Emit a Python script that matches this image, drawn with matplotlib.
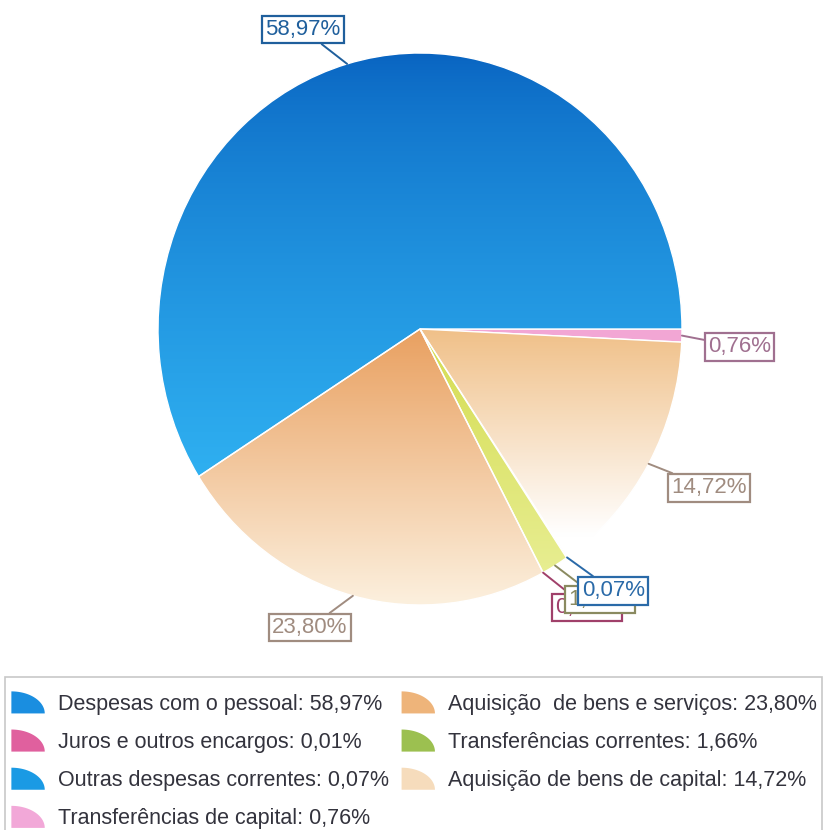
import numpy as np
import matplotlib
matplotlib.use("Agg")
import matplotlib.pyplot as plt
from matplotlib.patches import Patch, Polygon, Rectangle
from matplotlib.legend_handler import HandlerPatch
from matplotlib.colors import to_rgb

plt.rcParams['font.family'] = ['Liberation Sans', 'DejaVu Sans']

# --- dados ---
categorias = ["Despesas com o pessoal", "Aquisição  de bens e serviços",
              "Juros e outros encargos", "Transferências correntes",
              "Outras despesas correntes", "Aquisição de bens de capital",
              "Transferências de capital"]
percentagens = [58.97, 23.80, 0.01, 1.66, 0.07, 14.72, 0.76]
rotulos = ["58,97%", "23,80%", "0,01%", "1,66%", "0,07%", "14,72%", "0,76%"]

# cores (base, topo/fundo do degradê)
cor_base = ["#1590e0", "#f0b87c", "#b03070", "#d8e060", "#1a90e0", "#f6d8b0", "#f2a6d4"]
degrade = {0: ("#0862c0", "#30b2f2"),   # azul
           1: ("#e9a060", "#fcf0de"),   # laranja
           3: ("#d4dc50", "#eaf09a"),   # verde
           5: ("#f0c088", "#ffffff")}   # pêssego
cor_legenda = ["#1a8ee0", "#eeb47a", "#e0609e", "#9cc050", "#1a9ae4", "#f6dcbc", "#f2a8d8"]
cor_rotulo = ["#1f5f9c", "#a08c80", "#a0406a", "#8a8a60", "#2a6aa8", "#a08c80", "#a07090"]

fig = plt.figure(figsize=(8.27, 8.30), dpi=100)
ax = fig.add_axes([0, 0, 1, 1])

wedges, _ = ax.pie(percentagens, startangle=0, counterclock=True, radius=1,
                   colors=cor_base,
                   wedgeprops=dict(edgecolor="white", linewidth=1.0))

# degradê vertical dentro das fatias
for i, (c_top, c_bot) in degrade.items():
    w = wedges[i]
    a, b = np.array(to_rgb(c_top)), np.array(to_rgb(c_bot))
    y = np.linspace(1, -1, 256)[:, None]
    if i == 0:
        f = np.clip((1 - y) / 1.6, 0, 1) ** 0.7
    elif i == 5:
        f = np.clip((0 - y) / 0.75, 0, 1)
    else:
        f = np.clip((0 - y) / 1.0, 0, 1)
    img = a[None, None, :] * (1 - f[:, :, None]) + b[None, None, :] * f[:, :, None]
    img = np.repeat(img, 2, axis=1)
    im = ax.imshow(img, extent=(-1, 1, -1, 1), origin="upper",
                   interpolation="bilinear", zorder=1, aspect="auto")
    im.set_clip_path(w)
    w.set_facecolor("none")
    w.set_zorder(2)

# rótulos com caixas
cfg = {0: (1.09, "right", "bottom"), 1: (1.08, "right", "top"),
       2: (1.10, "left", "top"), 3: (1.10, "left", "top"),
       4: (1.10, "left", "top"), 5: (1.10, "left", "top"),
       6: (1.10, "left", "top")}
for i, w in enumerate(wedges):
    ang = np.deg2rad((w.theta1 + w.theta2) / 2)
    r, ha, va = cfg[i]
    ax.annotate(rotulos[i], xy=(np.cos(ang), np.sin(ang)),
                xytext=(r * np.cos(ang), r * np.sin(ang)),
                ha=ha, va=va, fontsize=16, color=cor_rotulo[i],
                bbox=dict(boxstyle="square,pad=0.15", fc="white",
                          ec=cor_rotulo[i], lw=1.6),
                arrowprops=dict(arrowstyle="-", color=cor_rotulo[i], lw=1.4,
                                shrinkA=0, shrinkB=0),
                zorder=5 + i)

ax.set_aspect("auto")
ax.set_xlim(-420 / 262, 407 / 262)
ax.set_ylim((329 - 830) / 276, 329 / 276)
ax.axis("off")


# legenda
def quarto(legend, orig_handle, xdescent, ydescent, width, height, fontsize):
    t = np.linspace(0, np.pi / 2, 30)
    pts = np.column_stack([-xdescent + width * np.cos(t), -ydescent + height * np.sin(t)])
    pts = np.vstack([[-xdescent, -ydescent], pts])
    return Polygon(pts, closed=True)


ordem = [0, 2, 4, 6, 1, 3, 5]
handles = [Patch(facecolor=cor_legenda[i], edgecolor="none") for i in ordem]
labels = [f"{categorias[i]}: {rotulos[i]}" for i in ordem]
fig.add_artist(Rectangle((5 / 827, -0.05), 817 / 827, (830 - 677) / 830 + 0.05,
                         transform=fig.transFigure, fill=False,
                         ec="#c8c8c8", lw=1.2))
fig.legend(handles, labels, loc="upper left", ncol=2,
           bbox_to_anchor=(-8 / 827, 1 - 672 / 830), frameon=False,
           fontsize=15.5, labelcolor="#33333d",
           handlelength=1.55, handleheight=1.2, handletextpad=0.6,
           labelspacing=0.69, columnspacing=0.6,
           handler_map={Patch: HandlerPatch(patch_func=quarto)})

fig.savefig("out.png", dpi=100)
